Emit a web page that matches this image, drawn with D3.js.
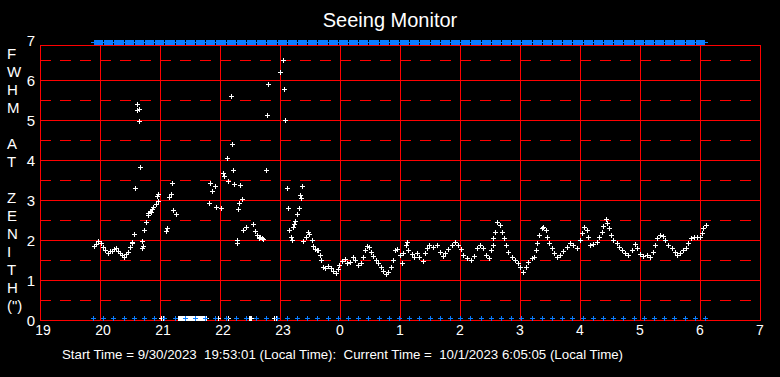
<!DOCTYPE html>
<html>
<head>
<meta charset="utf-8">
<script src="https://cdn.jsdelivr.net/npm/d3@7"></script>
<style>
  html, body { margin: 0; padding: 0; background: #000; }
  svg { display: block; }
  .lbl { fill: #fff; font-family: "Liberation Sans", Arial, sans-serif; }
  .narrow { font-family: "Liberation Sans Narrow", "Arial Narrow", "Liberation Sans", sans-serif; }
</style>
</head>
<body>
<div id="chart"></div>
<script>
// time is minutes after 19:00 local time, values are FWHM at zenith (arcsec)
const hourLabels = ["19", "20", "21", "22", "23", "0", "1", "2", "3", "4", "5", "6", "7"];
const yTickValues = [0, 1, 2, 3, 4, 5, 6, 7];
const axisLetters = ["F", "W", "H", "M", "", "A", "T", "", "Z", "E", "N", "I", "T", "H", "(\")"];

const seeingMin = [
  54, 56, 58, 61, 63, 65, 68, 70, 72, 74, 76, 78, 80, 82, 84, 86, 88, 90, 91.7, 92, 94,
  95, 96.5, 97.3, 98.7, 99.3, 100.3, 101.7, 102.3, 103, 104.3, 106.3, 107.5, 108.3, 109.5,
  110.7, 112, 113.3, 115.7, 117.3, 117.7, 118.3,
  121, 122.5,
  125.7, 127, 129, 131, 132.3, 133.3, 135.7,
  138, 139, 140, 141, 142, 143, 144, 145, 146, 147, 148, 149, 150, 151, 152, 153, 154,
  155, 156, 157, 158, 159, 160, 161, 162, 163, 164, 165, 166,
  169.3, 170.3, 172.3, 175.3, 176.3, 178, 180.7, 182.7, 184.3, 187, 188.3, 188.3,
  191.3, 192.3, 193.3, 194.3, 196.7, 197.3, 198.3, 199.3, 200.3, 202.3, 203.3, 206,
  208.5, 210, 211,
  213.3, 215.3, 216.7, 218.7, 220, 221.7, 223.3, 226.3, 227.3, 228.3,
  234, 235.5,
  240.3, 243.3, 244.3, 245.3, 247.3, 248.3, 249.3, 250.7, 252, 252.7, 254.3, 255.3,
  257, 258.7, 260, 261.3, 262.3, 263.3, 266, 267.7, 269.3, 271.7, 273.3, 275, 276.7,
  278.3, 280, 281, 282.7, 285, 288.3, 291, 293.3, 296, 298.3, 299.3, 301.7, 305, 307.3,
  310, 312.7, 315, 318.3, 320.7, 323.3, 325, 326.7, 329.3, 330.7, 333.3, 336, 338.3,
  340.7, 343.3, 346, 348.3, 350.7, 353.3, 355, 357.3, 360, 361.7, 363.3, 365.7, 366.7,
  368.3, 371.7, 374, 376.7, 379.3, 382.7, 385, 386.7, 389.3, 393.3, 396.7, 400, 402.7,
  405, 408.3, 411.7, 415, 418.3, 421, 423.3, 426.7, 430.7, 434, 437.3, 440, 442.7, 446,
  448.7, 450.7, 452.7, 453.3, 455, 457.3, 460, 462.3, 464.3, 466, 468.3, 471.7, 475,
  478.3, 480, 483.3, 486, 488.3, 491.7, 494.3, 496, 497.3, 499.3, 501.7, 503.3, 506,
  507.3, 509.3, 511.7, 514, 516.7, 520, 523.3, 526.7, 530, 533.3, 536.7, 540, 541.7,
  544, 546.7, 548.3, 550, 553.3, 556.7, 559.3, 561.7, 563.3, 565.7, 567.3, 569.3, 571,
  573.3, 576.7, 579.3, 581.7, 585, 588.3, 591.7, 595, 597.3, 600, 603.3, 606.7, 610,
  612.7, 615, 617.3, 620, 622.7, 625, 628.3, 631.7, 635, 637.3, 640, 642.7, 646, 648.3,
  650.7, 654, 657.3, 660, 662.3, 663.3, 665.7
];

const seeingFwhm = [
  1.85, 1.90, 1.97, 1.92, 1.82, 1.75, 1.68, 1.72, 1.73, 1.78, 1.79, 1.73, 1.68, 1.63, 1.57, 1.65, 1.71, 1.82, 1.93, 1.94, 2.14,
  3.29, 5.25, 5.39, 5.27, 4.97, 3.82, 1.79, 1.97, 1.85, 2.25, 2.44, 2.62, 2.67, 2.72,
  2.71, 2.78, 2.82, 2.89, 3.09, 2.98, 3.15,
  0.05, 0.05,
  2.23, 2.29, 3.08, 3.15, 3.42, 2.75, 2.64,
  0.05, 0.05, 0.05, 0.05, 0.05, 0.05, 0.05, 0.05, 0.05, 0.05, 0.05, 0.05, 0.05, 0.05, 0.05, 0.05, 0.05,
  0.05, 0.05, 0.05, 0.05, 0.05, 0.05, 0.05, 0.05, 0.05, 0.05, 0.05, 0.05,
  2.93, 3.42, 3.22, 3.34, 2.83, 0.05, 2.79, 3.68, 3.61, 4.04, 3.47, 0.05,
  5.59, 4.39, 3.74, 3.39, 2.00, 1.93, 2.78, 2.92, 3.37, 3.02, 2.25, 2.32,
  0.05, 0.05, 0.05,
  2.40, 2.22, 2.12, 2.04, 2.07, 2.04, 2.02, 3.74, 5.12, 5.89,
  0.05, 0.05,
  6.19, 6.49, 5.77, 4.99, 3.29, 2.79, 2.25, 2.07, 2.00, 2.32, 2.40, 2.48,
  2.65, 2.79, 3.12, 3.04, 3.34, 1.98, 2.07, 2.21, 2.15, 2.00, 1.85, 1.78, 1.76,
  1.75, 1.62, 1.50, 1.32, 1.29, 1.35, 1.29, 1.23, 1.18, 1.27, 1.37, 1.48, 1.52, 1.42,
  1.46, 1.57, 1.50, 1.37, 1.43, 1.58, 1.75, 1.85, 1.83, 1.71, 1.60, 1.50, 1.42,
  1.33, 1.23, 1.14, 1.21, 1.33, 1.50, 1.75, 1.77, 1.62, 1.42, 1.67, 1.87, 1.96,
  1.75, 1.65, 1.57, 1.67, 1.58, 1.48, 1.67, 1.79, 1.87, 1.83, 1.87, 1.71, 1.60,
  1.68, 1.77, 1.87, 1.96, 1.87, 1.77, 1.62, 1.54, 1.50, 1.60, 1.79, 1.87, 1.79, 1.62,
  1.54, 1.75, 1.87, 2.04, 2.21, 2.46, 2.37, 2.21, 2.04, 1.87, 1.71, 1.57, 1.50,
  1.42, 1.32, 1.21, 1.32, 1.46, 1.54, 1.57, 1.75, 1.93, 2.12, 2.29, 2.33, 2.25,
  2.08, 1.92, 1.79, 1.67, 1.58, 1.62, 1.73, 1.83, 1.92, 1.87, 1.79, 2.00, 2.17,
  2.32, 2.25, 2.08, 1.87, 1.90, 1.96, 2.08, 2.21, 2.35, 2.52, 2.42, 2.29, 2.12,
  2.00, 1.93, 1.83, 1.75, 1.67, 1.62, 1.75, 1.90, 1.79, 1.65, 1.60, 1.62, 1.58,
  1.71, 1.87, 2.04, 2.12, 2.10, 2.00, 1.87, 1.79, 1.71, 1.62, 1.67, 1.75, 1.79, 1.92,
  2.04, 2.08, 2.08, 2.07, 2.17, 2.29, 2.37
];

// status marks (top bar and bottom crosses), minutes after 19:00
const statusMin = [
  53, 63.2, 73.4, 83.6, 93.8, 104, 114.2, 124.4, 134.6, 144.8, 155, 165.2, 175.4, 185.6,
  195.8, 206, 216.2, 226.4, 236.6, 246.8, 257, 267.2, 277.4, 287.6, 297.8, 308, 318.2,
  328.4, 338.6, 348.8, 359, 369.2, 379.4, 389.6, 399.8, 410, 420.2, 430.4, 440.6, 450.8,
  461, 471.2, 481.4, 491.6, 501.8, 512, 522.2, 532.4, 542.6, 552.8, 563, 573.2, 583.4,
  593.6, 603.8, 614, 624.2, 634.4, 644.6, 654.8, 665
];

const titleText = "Seeing Monitor";
const footerText = "Start Time = 9/30/2023  19:53:01 (Local Time):  Current Time =  10/1/2023 6:05:05 (Local Time)";

const W = 780, H = 377;
const margin = {top: 40, right: 20, bottom: 57, left: 40};
const frameTop = 45;

const svg = d3.select("#chart").append("svg")
  .attr("width", W)
  .attr("height", H)
  .style("background", "#000");

const x = d3.scaleLinear().domain([0, 720]).range([margin.left, W - margin.right]);
const y = d3.scaleLinear().domain([0, 7]).range([H - margin.bottom, margin.top]);

const red = "#ff0000", blue = "#0a7cff";
const hourTicks = hourLabels.map((d, i) => i * 60);

// grid
const grid = svg.append("g").attr("shape-rendering", "crispEdges");
const halfTicks = d3.range(0.5, 7, 1);
grid.selectAll(".dash").data(halfTicks).join("line")
  .attr("x1", x(0)).attr("x2", x(720))
  .attr("y1", d => Math.round(y(d)) + 0.5).attr("y2", d => Math.round(y(d)) + 0.5)
  .attr("stroke", red).attr("stroke-dasharray", "11,9");
grid.selectAll(".solid").data(yTickValues.filter(d => d > 0 && d < 7)).join("line")
  .attr("x1", x(0)).attr("x2", x(720))
  .attr("y1", d => Math.round(y(d)) + 0.5).attr("y2", d => Math.round(y(d)) + 0.5)
  .attr("stroke", red);
grid.selectAll(".vert").data(hourTicks.slice(1, -1)).join("line")
  .attr("x1", d => Math.round(x(d)) + 0.5).attr("x2", d => Math.round(x(d)) + 0.5)
  .attr("y1", frameTop).attr("y2", y(0))
  .attr("stroke", red);
grid.append("rect")
  .attr("x", x(0) + 0.5).attr("y", frameTop + 0.5)
  .attr("width", x(720) - x(0)).attr("height", y(0) - frameTop)
  .attr("fill", "none").attr("stroke", red);

// plus marker path
const plus = (cx, cy) => {
  const px = Math.round(cx), py = Math.round(cy);
  return `M${px - 2},${py + 0.5}h5M${px + 0.5},${py - 2}v5`;
};

// seeing points
const seeing = seeingMin.map((m, i) => ({m: m, v: seeingFwhm[i]}));
svg.append("path")
  .attr("d", seeing.map(d => plus(x(d.m), y(d.v))).join(""))
  .attr("stroke", "#fff").attr("fill", "none")
  .attr("shape-rendering", "crispEdges");

// bottom status crosses
svg.append("path")
  .attr("d", statusMin.map(m => plus(x(m), y(0.05))).join(""))
  .attr("stroke", blue).attr("fill", "none")
  .attr("shape-rendering", "crispEdges");

// top status bar
const topG = svg.append("g").attr("shape-rendering", "crispEdges");
topG.append("line")
  .attr("x1", x(statusMin[0]) - 2).attr("x2", x(statusMin[statusMin.length - 1]) + 3)
  .attr("y1", y(7) + 2.5).attr("y2", y(7) + 2.5)
  .attr("stroke", blue);
topG.selectAll("rect").data(statusMin.slice(0, -1)).join("rect")
  .attr("x", (d, i) => Math.round(x(d)) + 1)
  .attr("width", (d, i) => Math.round(x(statusMin[i + 1])) - Math.round(x(d)) - 1)
  .attr("y", y(7)).attr("height", 5)
  .attr("fill", blue);

// y labels
svg.selectAll(".ylab").data(yTickValues).join("text")
  .attr("class", "lbl")
  .attr("x", 31).attr("y", d => y(d) + 5.5)
  .attr("text-anchor", "middle")
  .attr("font-size", 15)
  .text(d => d);

// x labels
svg.selectAll(".xlab").data(hourTicks).join("text")
  .attr("class", "lbl")
  .attr("x", (d, i) => x(d) + (hourLabels[i].length > 1 ? 3 : 0))
  .attr("y", 335)
  .attr("text-anchor", "middle")
  .attr("font-size", 14)
  .text((d, i) => hourLabels[i]);

// vertical axis title, one letter per row
svg.selectAll(".ylet").data(axisLetters).join("text")
  .attr("class", "lbl")
  .attr("x", 7).attr("y", (d, i) => 58.5 + i * 18)
  .attr("font-size", 15)
  .text(d => d);

// title
svg.append("text")
  .attr("class", "lbl")
  .attr("x", 390).attr("y", 27)
  .attr("text-anchor", "middle")
  .attr("font-size", 20)
  .text(titleText);

// footer
svg.append("text")
  .attr("class", "lbl narrow")
  .attr("x", 62).attr("y", 359)
  .attr("font-size", 13)
  .style("white-space", "pre")
  .attr("textLength", 561)
  .attr("lengthAdjust", "spacingAndGlyphs")
  .text(footerText);
</script>
</body>
</html>
